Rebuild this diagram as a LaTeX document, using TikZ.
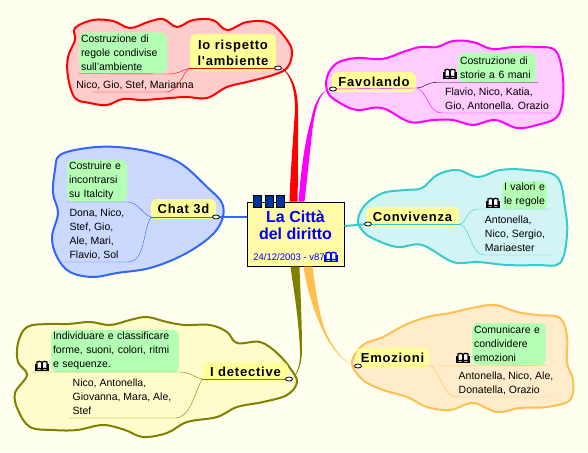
\documentclass[tikz,border=0pt]{standalone}
\usepackage{fontspec}
\setmainfont{Liberation Sans}
\newfontfamily\topicfont[LetterSpace=6]{Liberation Sans}
\usetikzlibrary{shapes.geometric}
\definecolor{sfondo}{HTML}{FFFFF0}
\definecolor{giallo}{HTML}{FFFF99}
\definecolor{verde}{HTML}{B3FFB3}
\definecolor{oliva}{HTML}{808000}
\definecolor{azzurro}{HTML}{33CCCC}
\definecolor{arancio}{HTML}{FFC050}
\definecolor{blu}{HTML}{3366FF}
\definecolor{rosso}{HTML}{FF0000}
\definecolor{rosa}{HTML}{FF00FF}
\tikzset{
    libro/.pic={
        \draw[line width=1.3, fill=white, pic actions] (-5,-4) .. controls (-3,-5) and (-1,-5) .. (0,-3.5) .. controls (1,-5) and (3,-5) .. (5,-4) -- (5,3) .. controls (3,2) and (1,2) .. (0,3.5) .. controls (-1,2) and (-3,2) .. (-5,3) -- cycle;
        \draw[line width=1.3, pic actions, fill=none] (0,-3.5) -- (0,3.5) (-6,-2) -- (-6,4.5) -- (6,4.5) -- (6,-2);
    }
}
\begin{document}
\begin{tikzpicture}[
    x=1pt, y=-1pt,
    blob/.style={line width=2, line join=round, smooth cycle, tension=0.6},
    topic/.style={fill=giallo, rounded corners=6, font=\topicfont\fontsize{13}{16}\selectfont\bfseries, align=center, inner sep=0},
    note/.style={fill=verde, rounded corners=6, font=\fontsize{10.5}{14}\selectfont, align=left, inner xsep=2, inner ysep=0},
    names/.style={font=\fontsize{10.5}{14}\selectfont, align=left, inner sep=0},
    handle/.style={ellipse, draw, fill=white, line width=0.8, minimum width=7, minimum height=4, inner sep=0}
]
    \fill[sfondo] (0,0) rectangle (588,452);

    % io rispetto l'ambiente
    \draw[rosso, fill=rosso!20, blob] plot coordinates {(75,28) (93,20) (113,21) (130,28) (148,22) (163,19) (177,27) (193,20) (213,20) (227,30) (247,22) (270,23) (287,40) (292,53) (287,68) (273,75) (247,82) (227,87) (207,98) (187,97) (170,98) (143,100) (123,99) (107,105) (90,103) (75,98) (68,77) (68,57) (75,40)};
    \node[topic, minimum width=86, minimum height=37] (tio) at (233,52.5) {Io rispetto\\l'ambiente};
    \node[note, text width=84, minimum height=41] (cio) at (123,53) {Costruzione di\\regole condivise\\sull'ambiente};
    \node[names] (nio) at (135,85) {Nico, Gio, Stef, Marianna};

    % favolando
    \draw[rosa, fill=rosa!20, blob] plot coordinates {(327,77) (337,63) (357,58) (382,59) (403,52) (420,47) (437,47) (453,41) (473,42) (492,49) (513,47) (537,47) (555,50) (562,70) (563,97) (557,117) (537,125) (517,128) (495,120) (473,125) (453,120) (433,120) (410,122) (382,108) (357,110) (340,103) (328,93)};
    \node[topic, minimum width=84, minimum height=20] (tfa) at (374,82) {Favolando};
    \node[note, text width=74, minimum height=29] (cfa) at (497,67.5) {Costruzione di\\storie a 6 mani};
    \node[names] (nfa) at (497,99) {Flavio, Nico, Katia,\\Gio, Antonella. Orazio};
    \pic at (450,74) {libro};

    % convivenza
    \draw[azzurro, fill=azzurro!22, blob] plot coordinates {(358,220) (365,205) (383,193) (405,190) (422,188) (437,175) (457,170) (478,177) (500,170) (527,170) (557,177) (565,208) (567,235) (560,263) (537,265) (507,265) (478,262) (453,262) (422,245) (397,247) (372,238) (362,230)};
    \node[topic, minimum width=93, minimum height=20] (tco) at (412.5,217) {Convivenza};
    \node[note, text width=41, minimum height=28] (cco) at (524.5,195) {I valori e\\le regole};
    \node[names] (nco) at (515,234) {Antonella,\\Nico, Sergio,\\Mariaester};
    \pic at (493,203) {libro};

    % emozioni
    \draw[arancio, fill=arancio!30, blob] plot coordinates {(352,363) (363,345) (383,337) (405,325) (427,317) (450,313) (472,308) (495,305) (517,312) (537,315) (560,318) (567,337) (567,363) (573,380) (570,400) (547,407) (520,408) (497,412) (473,403) (450,410) (427,407) (407,397) (383,390) (363,380)};
    \node[topic, minimum width=73, minimum height=20] (tem) at (392.5,358) {Emozioni};
    \node[note, text width=70, minimum height=42] (cem) at (509,344) {Comunicare e\\condividere\\emozioni};
    \node[names] (nem) at (506,383) {Antonella, Nico, Ale,\\Donatella, Orazio};
    \pic at (463,358) {libro};

    % i detective
    \draw[oliva, fill=yellow!20, blob] plot coordinates {(18,343) (27,327) (48,324) (68,324) (90,322) (110,325) (130,320) (147,317) (167,322) (185,325) (210,325) (227,332) (237,343) (260,342) (277,353) (290,368) (297,382) (287,395) (263,402) (237,407) (217,417) (187,422) (167,433) (143,437) (125,430) (103,425) (77,430) (53,430) (30,427) (18,410) (15,393) (27,375) (18,362)};
    \node[topic, minimum width=85, minimum height=20] (tde) at (245.5,372) {I detective};
    \node[note, text width=124, minimum height=42] (cde) at (115,351) {Individuare e classificare\\forme, suoni, colori, ritmi\\e sequenze.};
    \node[names] (nde) at (122,397) {Nico, Antonella,\\Giovanna, Mara, Ale,\\Stef};
    \pic at (42,366) {libro};

    % chat 3d
    \draw[blu, fill=blu!25, blob] plot coordinates {(60,155) (87,148) (117,147) (150,152) (180,163) (207,187) (222,203) (222,220) (210,237) (183,255) (150,268) (117,273) (93,277) (70,272) (57,257) (52,237) (58,213) (53,193) (55,170)};
    \node[topic, minimum width=65, minimum height=20] (tch) at (183.5,209) {Chat 3d};
    \node[note, text width=56, minimum height=42] (cch) at (97,181) {Costruire e\\incontrarsi\\su Italcity};
    \node[names] (nch) at (97,234) {Dona, Nico,\\Stef, Gio,\\Ale, Mari,\\Flavio, Sol};

    % citta
    \node[draw=black, fill=yellow!35, line width=1, minimum width=97, minimum height=64, inner sep=0] (city) at (295.5,234) {};
    \node[inner sep=0, align=center, text=blue, font=\fontsize{16}{17}\selectfont\bfseries] (title) at (295.5,225) {La Citt\`a\\del diritto};
    \node[inner sep=0, text=blue, font=\fontsize{9.5}{12}\selectfont] (date) at (289,257) {24/12/2003 - v87};
    \pic[draw=blue] at (331,257) {libro};
    \foreach \k in {257.5,269,280}
        \draw[black, fill=blue!50!black!80!cyan, line width=0.8] (\k-4,195) rectangle (\k+4,207);

    % maniglie
    \node[handle] (hio) at (278,68) {};
    \node[handle] (hfa) at (333,89) {};
    \node[handle] (hco) at (368,224) {};
    \node[handle] (hem) at (358,366) {};
    \node[handle] (hde) at (289,379) {};
    \node[handle] (hch) at (216,217) {};

    % rami
    \fill[rosso] (hio.east) .. controls (292,74) and (298,90) .. (298,110) .. controls (298,150) and (298,180) .. ([xshift=2]city.north) -- ([xshift=-6]city.north) .. controls (290,180) and (293,140) .. (295,110) .. controls (295,90) and (291,76) .. (hio.east) -- cycle;
    \fill[rosa] (hfa.west) .. controls (322,92) and (317,100) .. (313,125) .. controls (310,150) and (307,180) .. ([xshift=9]city.north) -- ([xshift=3]city.north) .. controls (301,170) and (305,140) .. (311,120) .. controls (315,100) and (321,92) .. (hfa.west) -- cycle;
    \fill[oliva] (hde.east) .. controls (297,374) and (302,365) .. (302,350) .. controls (302,320) and (300,285) .. ([xshift=4]city.south) -- ([xshift=-5]city.south) .. controls (292,280) and (298,310) .. (300,350) .. controls (301,365) and (296,374) .. (hde.east) -- cycle;
    \fill[arancio] (hem.west) .. controls (345,362) and (333,350) .. (325,330) .. controls (318,310) and (315,285) .. ([xshift=17]city.south) -- ([xshift=8]city.south) .. controls (306,285) and (313,310) .. (323,331) .. controls (332,350) and (344,362) .. (hem.west) -- cycle;
    \draw[blu, line width=2] (hch) -- (city.west |- hch);
    \draw[azzurro, line width=2] (city.east |- 0,226) -- (357,225) -- (hco);

    % sottorami
    \coordinate (jio) at (190,68);
    \coordinate (lio) at (92,92);
    \coordinate (eio) at (165,92);
    \draw[rosso] (hio) -- (jio);
    \draw[rosso] (jio) .. controls (183,70) and (178,74) .. (168,74) -- (cio.south west);
    \draw[rosso] (jio) .. controls (182,72) and (180,92) .. (eio) -- (lio);

    \coordinate (jfa) at (417,88);
    \coordinate (lfa) at (442,113);
    \coordinate (efa) at (552,113);
    \draw[rosa] (hfa) -- (jfa);
    \draw[black] (jfa) .. controls (424,88) and (427,82) .. (cfa.south west -| 438,0) -- (538,0 |- cfa.south);
    \draw[rosa] (jfa) .. controls (428,92) and (428,113) .. (lfa) -- (efa);

    \coordinate (jco) at (460,224);
    \coordinate (lco) at (485,255);
    \coordinate (eco) at (553,255);
    \draw[azzurro] (hco) -- (jco);
    \draw[azzurro] (jco) .. controls (466,224) and (466,209) .. (478,209) -- (550,209);
    \draw[azzurro] (jco) .. controls (472,230) and (470,255) .. (lco) -- (eco);

    \coordinate (jem) at (431,366);
    \coordinate (lem) at (457,397);
    \coordinate (eem) at (557,397);
    \draw[arancio] (hem) -- (jem) -- (548,365.5);
    \draw[arancio] (jem) .. controls (440,370) and (442,397) .. (lem) -- (eem);

    \coordinate (jde) at (202,379);
    \coordinate (lde) at (69,418);
    \coordinate (ede) at (175,418);
    \draw[oliva] (hde) -- (jde);
    \draw[oliva] (jde) .. controls (196,378) and (190,372) .. (180,372) -- (32,372);
    \draw[oliva] (jde) .. controls (192,400) and (190,417) .. (ede) -- (lde);

    \coordinate (jch) at (151,217);
    \coordinate (lch) at (64,262);
    \coordinate (ech) at (127,262);
    \draw[blu] (hch) -- (jch);
    \draw[blu] (jch) .. controls (142,214) and (138,202) .. (128,202) -- (66,202);
    \draw[blu] (jch) .. controls (142,232) and (146,262) .. (ech) -- (lch);
\end{tikzpicture}
\end{document}
